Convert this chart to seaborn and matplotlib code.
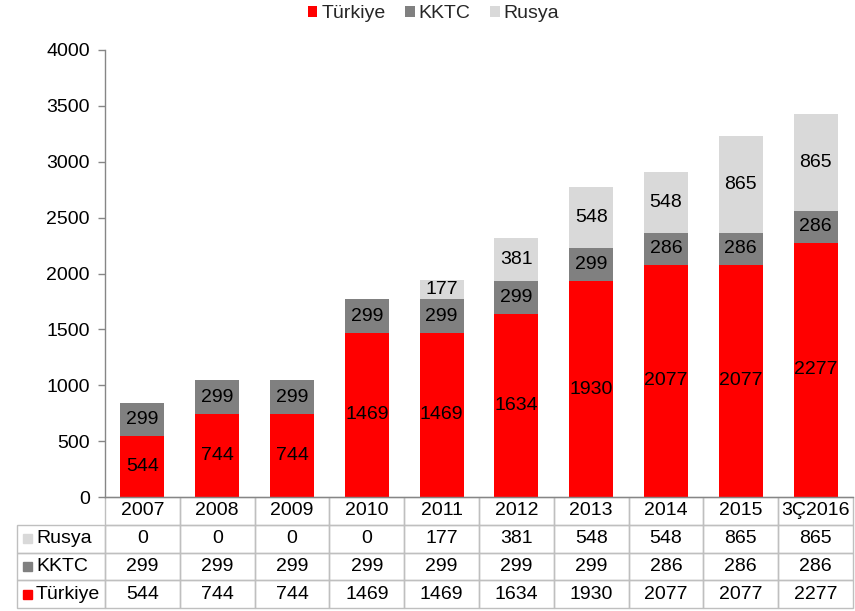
import matplotlib
matplotlib.use('Agg')
import matplotlib.pyplot as plt
import seaborn as sns
import pandas as pd
import numpy as np
from matplotlib.patches import Patch, Rectangle

years = ['2007', '2008', '2009', '2010', '2011', '2012', '2013', '2014', '2015', '3Ç2016']
turkiye = [544, 744, 744, 1469, 1469, 1634, 1930, 2077, 2077, 2277]
kktc = [299, 299, 299, 299, 299, 299, 299, 286, 286, 286]
rusya = [0, 0, 0, 0, 177, 381, 548, 548, 865, 865]
series_names = ['Türkiye', 'KKTC', 'Rusya']
colors = {'Türkiye': '#FF0000', 'KKTC': '#808080', 'Rusya': '#D9D9D9'}
yticks = [0, 500, 1000, 1500, 2000, 2500, 3000, 3500, 4000]

sns.set_theme(style='white')
plt.rcParams['font.family'] = ['Liberation Sans', 'DejaVu Sans']
FS = 14
AXC = '#868686'

W, H = 855, 611
fig = plt.figure(figsize=(W / 100, H / 100), dpi=100)
L, R, T, B = 105, 853, 50, 497
ax = fig.add_axes([L / W, 1 - B / H, (R - L) / W, (B - T) / H])

df = pd.DataFrame({'year': years, 'Türkiye': turkiye, 'KKTC': kktc, 'Rusya': rusya})
df['c1'] = df['Türkiye']
df['c2'] = df['c1'] + df['KKTC']
df['c3'] = df['c2'] + df['Rusya']
for col, name in [('c3', 'Rusya'), ('c2', 'KKTC'), ('c1', 'Türkiye')]:
    sns.barplot(data=df, x='year', y=col, order=years, color=colors[name],
                saturation=1, width=0.59, errorbar=None, ax=ax, linewidth=0)

bottoms = np.zeros(len(years))
for name in series_names:
    vals = df[name].values
    for i, v in enumerate(vals):
        if v > 0:
            ax.text(i, bottoms[i] + v / 2, str(v), ha='center', va='center',
                    fontsize=FS, color='black')
    bottoms += vals

ax.set_ylim(0, 4000)
ax.set_yticks(yticks)
ax.set_xlim(-0.5, len(years) - 0.5)
ax.set_xlabel('')
ax.set_ylabel('')
ax.tick_params(axis='x', bottom=False, labelbottom=False)
ax.tick_params(axis='y', left=True, length=5, width=1, color=AXC, labelsize=FS,
               pad=6, labelcolor='black')
for s in ['top', 'right']:
    ax.spines[s].set_visible(False)
for s in ['left', 'bottom']:
    ax.spines[s].set_color(AXC)
    ax.spines[s].set_linewidth(1)

# data table
TL, TB = 17, 608
aw, ah = R - L, B - T
row_names = ['Rusya', 'KKTC', 'Türkiye']
row_vals = [rusya, kktc, turkiye]
full = [[''] + years] + [[''] + [str(v) for v in r] for r in row_vals]
label_w = L - TL
col_w = (R - L) / len(years)
tbl = ax.table(cellText=full, cellLoc='center', colWidths=[label_w] + [col_w] * len(years),
               bbox=[(TL - L) / aw, (B - TB) / ah, (R - TL) / aw, (TB - B) / ah])
tbl.auto_set_font_size(False)
tbl.set_fontsize(FS)
for (r, c), cell in tbl.get_celld().items():
    cell.set_edgecolor('#BFBFBF')
    cell.set_linewidth(1)
    cell.set_facecolor('none')
    cell.get_text().set_color('black')
tbl[0, 0].visible_edges = 'open'

row_h = (TB - B) / 4
for k, name in enumerate(row_names):
    yc = B + row_h * (k + 1.5)
    ya = (B - yc) / ah
    ax.add_patch(Rectangle(((23 - L) / aw, ya - 4.5 / ah), 9 / aw, 9 / ah,
                           transform=ax.transAxes, color=colors[name], clip_on=False))
    ax.text((36 - L) / aw, ya, name, transform=ax.transAxes, ha='left', va='center',
            fontsize=FS, color='black')

handles = [Patch(facecolor=colors[n], edgecolor='none', label=n) for n in series_names]
fig.legend(handles=handles, loc='center', bbox_to_anchor=(0.507, 1 - 14 / H), ncol=3,
           frameon=False, fontsize=FS, handlelength=0.5, handleheight=0.5,
           handletextpad=0.2, columnspacing=1.0, borderaxespad=0)

fig.savefig('out.png', dpi=100)
